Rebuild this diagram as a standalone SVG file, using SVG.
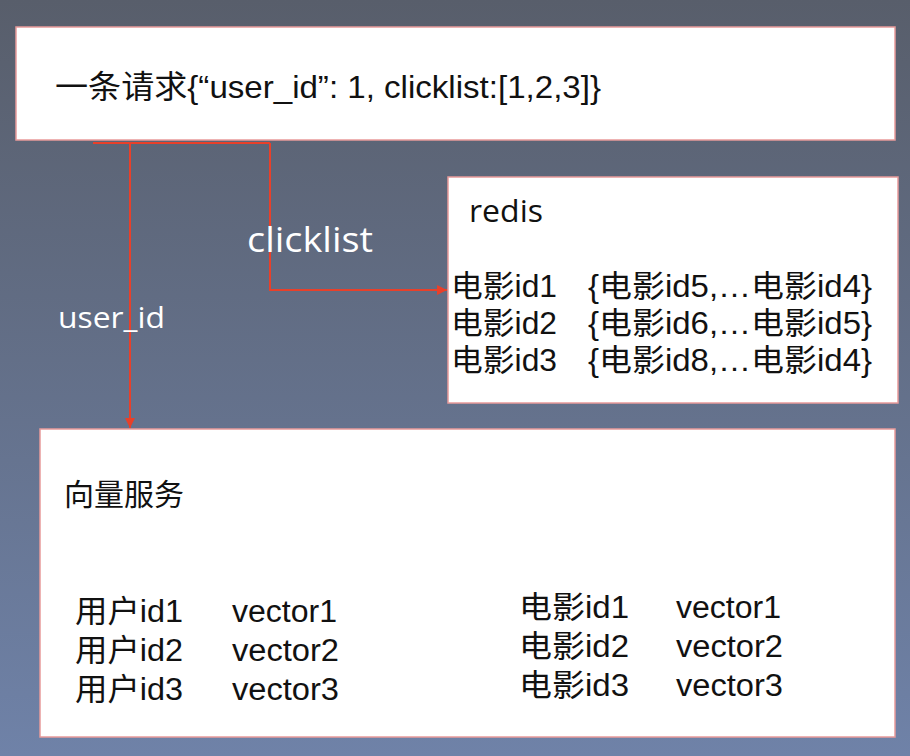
<svg xmlns="http://www.w3.org/2000/svg" width="910" height="756" viewBox="0 0 910 756">
<defs>
<linearGradient id="bg" x1="0" y1="0" x2="0" y2="1">
<stop offset="0" stop-color="#585e6b"/>
<stop offset="1" stop-color="#6f82a8"/>
</linearGradient>
<marker id="arr" viewBox="0 0 10 10" refX="10" refY="5" markerWidth="10" markerHeight="10" markerUnits="userSpaceOnUse" orient="auto">
<path d="M0,0 L10,5 L0,10 z" fill="#e8402a"/>
</marker>
<style>
.box{fill:#ffffff;stroke:#e89a9a;stroke-width:1.5}
.t{font-family:"Liberation Sans","Noto Sans CJK SC",sans-serif;fill:#111}
.s{font-family:"Open Sans","Noto Sans",sans-serif}
.lbl{font-family:"Open Sans","Noto Sans",sans-serif;fill:#ffffff}
.line{fill:none;stroke:#e8402a;stroke-width:2}
</style>
</defs>
<rect width="910" height="756" fill="url(#bg)"/>
<g id="request">
<rect class="box" x="16" y="27" width="879" height="113"/>
<text class="t" x="55" y="98" font-size="32" textLength="546" lengthAdjust="spacingAndGlyphs">一条请求{“user_id”: 1, clicklist:[1,2,3]}</text>
</g>
<g id="redis">
<rect class="box" x="448" y="177" width="450" height="226"/>
<text class="t s" x="469" y="222" font-size="31" textLength="74" lengthAdjust="spacingAndGlyphs">redis</text>
<text class="t" x="451" y="297" font-size="31" textLength="106" lengthAdjust="spacingAndGlyphs">电影id1</text>
<text class="t" x="588" y="297" font-size="31" textLength="284" lengthAdjust="spacingAndGlyphs">{电影id5,…电影id4}</text>
<text class="t" x="451" y="334" font-size="31" textLength="106" lengthAdjust="spacingAndGlyphs">电影id2</text>
<text class="t" x="588" y="334" font-size="31" textLength="284" lengthAdjust="spacingAndGlyphs">{电影id6,…电影id5}</text>
<text class="t" x="451" y="371" font-size="31" textLength="106" lengthAdjust="spacingAndGlyphs">电影id3</text>
<text class="t" x="588" y="371" font-size="31" textLength="284" lengthAdjust="spacingAndGlyphs">{电影id8,…电影id4}</text>
</g>
<g id="vector-service">
<rect class="box" x="40" y="429" width="855" height="308"/>
<text class="t" x="64" y="505" font-size="30">向量服务</text>
<text class="t" x="75" y="622" font-size="31" textLength="108" lengthAdjust="spacingAndGlyphs">用户id1</text>
<text class="t" x="232" y="622" font-size="31" textLength="105" lengthAdjust="spacingAndGlyphs">vector1</text>
<text class="t" x="75" y="661" font-size="31" textLength="108" lengthAdjust="spacingAndGlyphs">用户id2</text>
<text class="t" x="232" y="661" font-size="31" textLength="107" lengthAdjust="spacingAndGlyphs">vector2</text>
<text class="t" x="75" y="700" font-size="31" textLength="108" lengthAdjust="spacingAndGlyphs">用户id3</text>
<text class="t" x="232" y="700" font-size="31" textLength="107" lengthAdjust="spacingAndGlyphs">vector3</text>
<text class="t" x="519" y="618" font-size="31" textLength="110" lengthAdjust="spacingAndGlyphs">电影id1</text>
<text class="t" x="676" y="618" font-size="31" textLength="105" lengthAdjust="spacingAndGlyphs">vector1</text>
<text class="t" x="519" y="657" font-size="31" textLength="110" lengthAdjust="spacingAndGlyphs">电影id2</text>
<text class="t" x="676" y="657" font-size="31" textLength="107" lengthAdjust="spacingAndGlyphs">vector2</text>
<text class="t" x="519" y="696" font-size="31" textLength="110" lengthAdjust="spacingAndGlyphs">电影id3</text>
<text class="t" x="676" y="696" font-size="31" textLength="107" lengthAdjust="spacingAndGlyphs">vector3</text>
</g>
<g id="connectors">
<path class="line" d="M93,143 H270"/>
<path class="line" d="M130,143 V428" marker-end="url(#arr)"/>
<path class="line" d="M270,143 V290 H447" marker-end="url(#arr)"/>
<text class="lbl" x="247" y="252" font-size="34" textLength="126" lengthAdjust="spacingAndGlyphs">clicklist</text>
<text class="lbl" x="58" y="328" font-size="30" textLength="107" lengthAdjust="spacingAndGlyphs">user_id</text>
</g>
</svg>
